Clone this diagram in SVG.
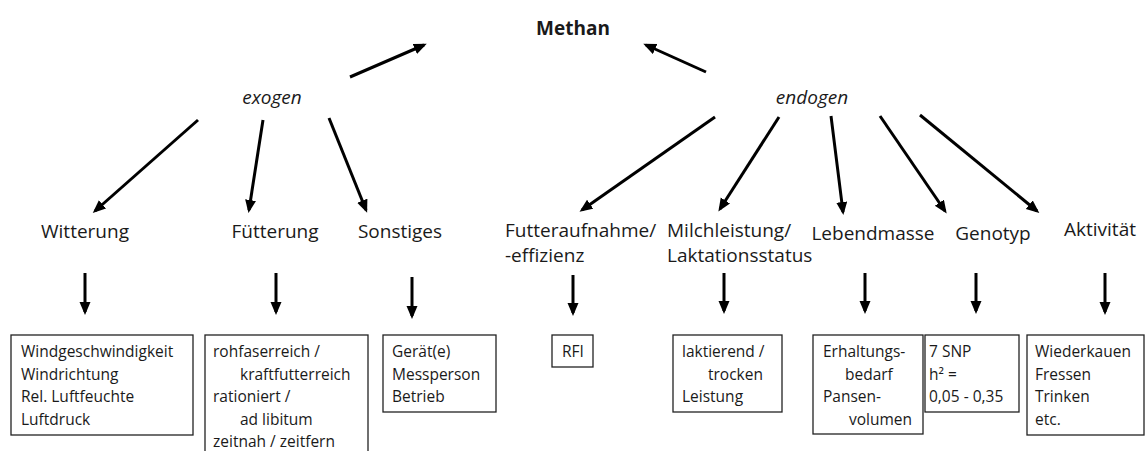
<svg xmlns="http://www.w3.org/2000/svg" width="1146" height="451" viewBox="0 0 1146 451">
<style>
text{font-family:"Open Sans","Noto Sans","Liberation Sans",sans-serif;fill:#1a1a1a}
.lbl{font-size:19px}
.it{font-size:19px;font-style:italic}
.bx{font-size:15.5px}
.box{fill:#fff;stroke:#222;stroke-width:1.3}
.con line{stroke:#000;stroke-width:3;marker-end:url(#ah)}
</style>
<defs>
<marker id="ah" markerUnits="userSpaceOnUse" markerWidth="14" markerHeight="12" refX="10" refY="5.5" orient="auto">
<path d="M0,0 L13,5.5 L0,11 z" fill="#000"/>
</marker>
</defs>
<rect width="1146" height="451" fill="#fff"/>
<g id="methan"><text x="573" y="35" text-anchor="middle" font-weight="bold" style="font-size:19px">Methan</text></g>
<g id="exogen"><text class="it" x="272" y="104" text-anchor="middle">exogen</text></g>
<g id="endogen"><text class="it" x="812" y="104" text-anchor="middle">endogen</text></g>
<g id="witterung"><text class="lbl" x="85" y="238" text-anchor="middle">Witterung</text></g>
<g id="fuetterung"><text class="lbl" x="275" y="238" text-anchor="middle">Fütterung</text></g>
<g id="sonstiges"><text class="lbl" x="400" y="238" text-anchor="middle">Sonstiges</text></g>
<g id="futteraufnahme"><text class="lbl" x="505" y="237">Futteraufnahme/</text><text class="lbl" x="505" y="262">-effizienz</text></g>
<g id="milchleistung"><text class="lbl" x="667" y="237">Milchleistung/</text><text class="lbl" x="667" y="262">Laktationsstatus</text></g>
<g id="lebendmasse"><text class="lbl" x="873" y="240" text-anchor="middle">Lebendmasse</text></g>
<g id="genotyp"><text class="lbl" x="993" y="240" text-anchor="middle">Genotyp</text></g>
<g id="aktivitaet"><text class="lbl" x="1100" y="236" text-anchor="middle">Aktivität</text></g>

<g id="box-witterung"><rect class="box" x="11" y="335" width="182" height="100"/>
<text class="bx" x="21" y="357">Windgeschwindigkeit</text><text class="bx" x="21" y="380">Windrichtung</text><text class="bx" x="21" y="402">Rel. Luftfeuchte</text><text class="bx" x="21" y="425">Luftdruck</text></g>
<g id="box-fuetterung"><rect class="box" x="205" y="335" width="163" height="130"/>
<text class="bx" x="213" y="357">rohfaserreich /</text><text class="bx" x="240" y="380">kraftfutterreich</text><text class="bx" x="213" y="402">rationiert /</text><text class="bx" x="240" y="425">ad libitum</text><text class="bx" x="213" y="447">zeitnah / zeitfern</text></g>
<g id="box-sonstiges"><rect class="box" x="383" y="335" width="113" height="77"/>
<text class="bx" x="392" y="357">Gerät(e)</text><text class="bx" x="392" y="380">Messperson</text><text class="bx" x="392" y="402">Betrieb</text></g>
<g id="box-rfi"><rect class="box" x="552" y="335" width="41" height="32"/>
<text class="bx" x="562" y="357">RFI</text></g>
<g id="box-milch"><rect class="box" x="673" y="335" width="109" height="77"/>
<text class="bx" x="682" y="357">laktierend /</text><text class="bx" x="708" y="380">trocken</text><text class="bx" x="682" y="402">Leistung</text></g>
<g id="box-lebendmasse"><rect class="box" x="813" y="335" width="110" height="99"/>
<text class="bx" x="823" y="357">Erhaltungs-</text><text class="bx" x="845" y="380">bedarf</text><text class="bx" x="823" y="402">Pansen-</text><text class="bx" x="849" y="425">volumen</text></g>
<g id="box-genotyp"><rect class="box" x="925" y="335" width="94" height="77"/>
<text class="bx" x="929" y="357">7 SNP</text><text class="bx" x="929" y="380">h² =</text><text class="bx" x="929" y="402">0,05 - 0,35</text></g>
<g id="box-aktivitaet"><rect class="box" x="1027" y="335" width="117" height="100"/>
<text class="bx" x="1035" y="357">Wiederkauen</text><text class="bx" x="1035" y="380">Fressen</text><text class="bx" x="1035" y="402">Trinken</text><text class="bx" x="1035" y="425">etc.</text></g>

<g class="con" id="connectors">
<line x1="350" y1="77" x2="424" y2="45"/>
<line x1="706" y1="72" x2="646" y2="45"/>
<line x1="198" y1="120" x2="95" y2="211"/>
<line x1="263" y1="120" x2="249" y2="210"/>
<line x1="329" y1="118" x2="366" y2="210"/>
<line x1="715" y1="117" x2="582" y2="210"/>
<line x1="779" y1="117" x2="720" y2="209"/>
<line x1="831" y1="116" x2="843" y2="212"/>
<line x1="880" y1="116" x2="945" y2="211"/>
<line x1="920" y1="115" x2="1037" y2="211"/>
<line x1="85" y1="273" x2="85" y2="312"/>
<line x1="276" y1="273" x2="276" y2="312"/>
<line x1="412" y1="277" x2="412" y2="316"/>
<line x1="573" y1="275" x2="573" y2="313"/>
<line x1="724" y1="273" x2="724" y2="311"/>
<line x1="865" y1="273" x2="865" y2="311"/>
<line x1="976" y1="273" x2="976" y2="311"/>
<line x1="1105" y1="273" x2="1105" y2="312"/>
</g>
</svg>
